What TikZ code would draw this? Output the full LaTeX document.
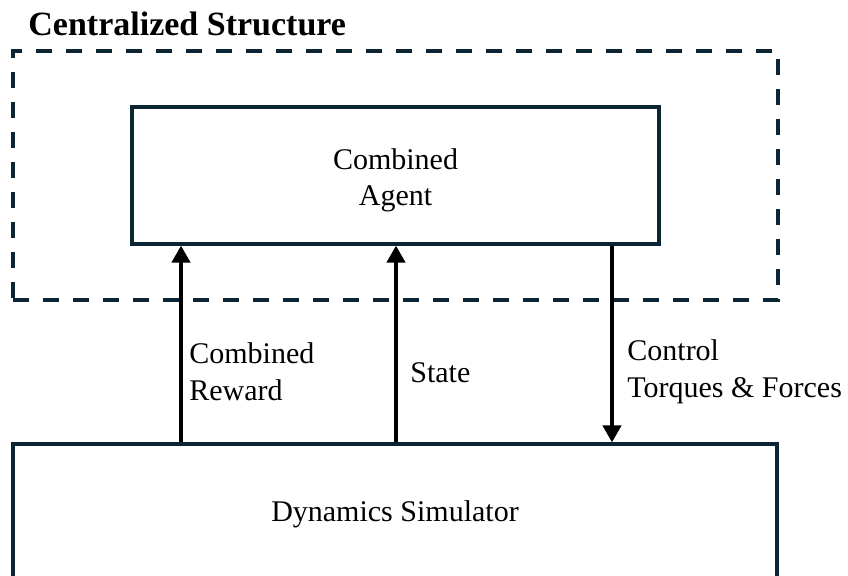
\documentclass[tikz,border=0pt]{standalone}
\usepackage{fontspec}
\setmainfont{Liberation Serif}
\usetikzlibrary{arrows.meta}
\definecolor{frame}{RGB}{12,37,52}
\begin{document}
\begin{tikzpicture}[x=0.5pt,y=-0.5pt,
  box/.style={draw=frame, line width=1.6pt, inner sep=0pt,
    font=\fontsize{15}{18}\selectfont, align=center},
  group/.style={draw=frame, line width=1.8pt, dash pattern=on 8pt off 7pt,
    inner sep=0pt},
  flow/.style={line width=2.1pt, -{Triangle[width=9pt,length=8.5pt]}},
  lbl/.style={font=\fontsize{15}{18.5}\selectfont, align=left, inner sep=0pt,
    anchor=base west}]
\useasboundingbox (0,0) rectangle (848,575);
\clip (0,0) rectangle (848,575);

% heading and dashed group frame
\node (title) [font=\fontsize{17}{20}\selectfont\bfseries, anchor=base west,
  inner sep=0pt] at (28,35) {Centralized Structure};
\node (central) [group, minimum width=382.5pt, minimum height=124.5pt]
  at (395.5,175.5) {};

% blocks
\node (agent) [box, minimum width=263.5pt, minimum height=68.5pt]
  at (395.5,175.5) {\rule{0pt}{15.4pt}Combined\\Agent};
\node (sim) [box, minimum width=382pt, minimum height=70pt]
  at (395,514) {Dynamics Simulator};

% signal columns
\coordinate (xr) at (181,0);
\coordinate (xs) at (396,0);
\coordinate (xc) at (612,0);

\draw[flow] (xr |- sim.north) -- (xr |- agent.south);
\draw[flow] (xs |- sim.north) -- (xs |- agent.south);
\draw[flow] (xc |- agent.south) -- (xc |- sim.north);

% signal labels (anchored on the baseline of the last line)
\node (lreward) [lbl] at (189,400) {Combined\\Reward};
\node (lstate) [lbl] at (410,382) {State};
\node (lcontrol) [lbl] at (627,397) {Control\\Torques \& Forces};
\end{tikzpicture}
\end{document}
